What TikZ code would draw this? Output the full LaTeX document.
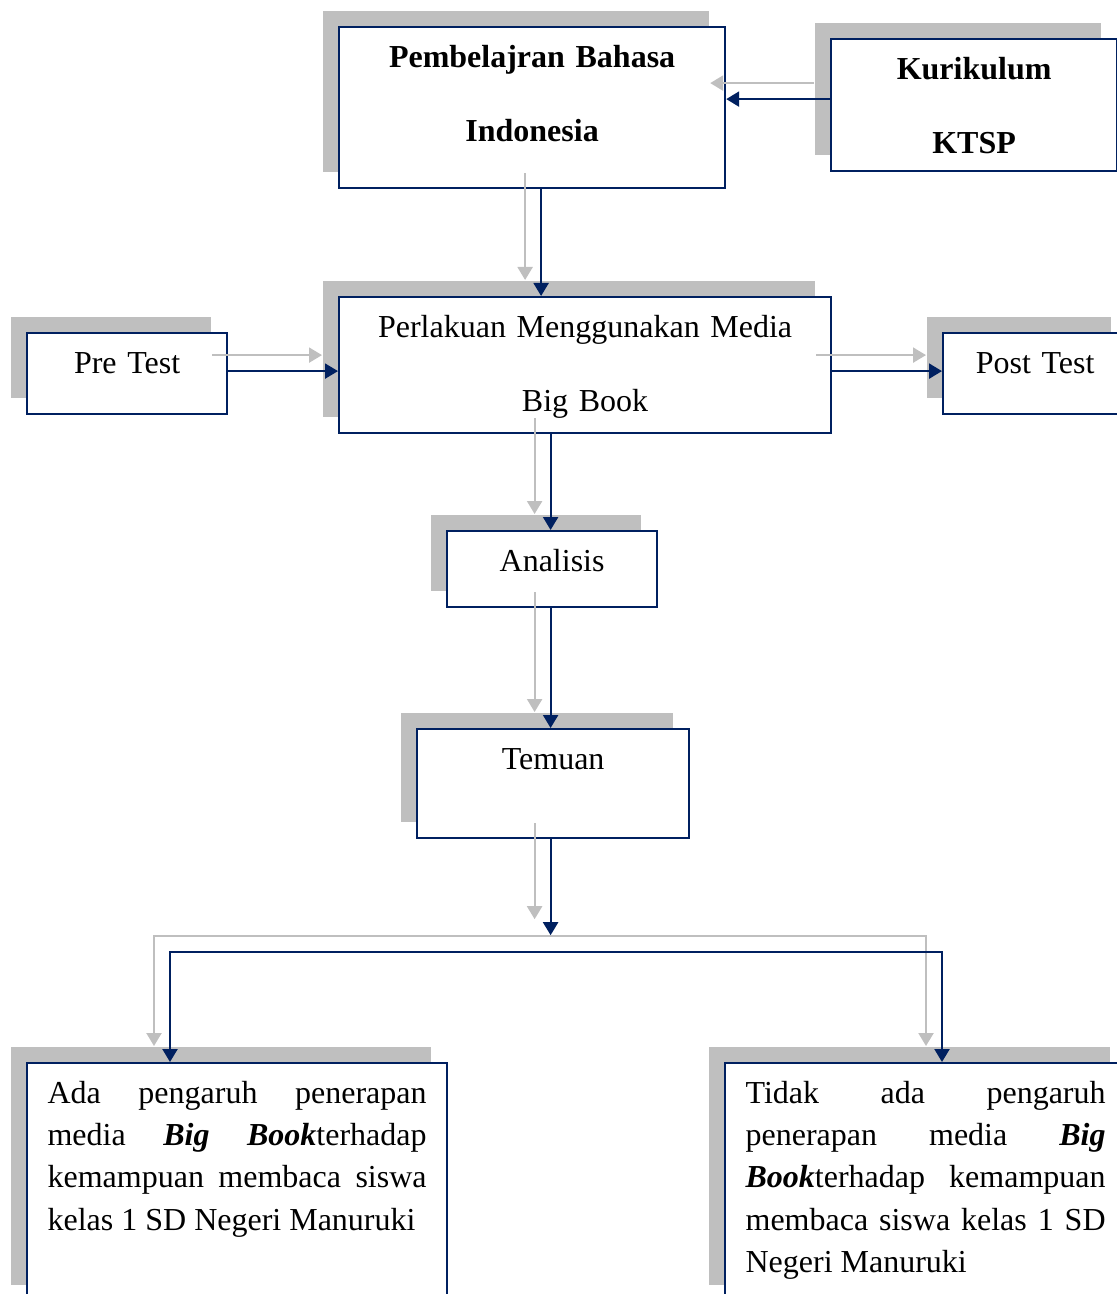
\documentclass[tikz,border=0pt]{standalone}
\usepackage{fontspec}
\setmainfont{Liberation Serif}
\usetikzlibrary{positioning,arrows.meta,shadows}
\definecolor{navy}{HTML}{002060}
\definecolor{shadowgray}{HTML}{BFBFBF}

\begin{document}
\begin{tikzpicture}[x=0.5pt, y=-0.5pt,
    blok/.style={draw=navy, fill=white, line width=1.1pt, anchor=north west,
        inner sep=0pt, align=center, text height=20pt,
        font=\fontsize{16}{37}\selectfont,
        general shadow={fill=shadowgray, shadow xshift=-8pt, shadow yshift=8pt}},
    tebal/.style={font=\fontsize{16}{37}\selectfont\bfseries},
    teks/.style={blok, align=justify, inner xsep=10.25pt, text depth=99pt,
        font=\fontsize{16}{21.15}\selectfont,
        execute at begin node={\tolerance=10000 \hyphenpenalty=10000 }},
    arr/.style={draw=navy, line width=1.1pt, -{Triangle[length=6.5pt,width=7.5pt]}},
    shd/.style={arr, draw=shadowgray, transform canvas={xshift=-8pt, yshift=8pt}}]
    \path[use as bounding box] (0,0) rectangle (1117,1294);
    \clip (0,0) rectangle (1117,1294);
    \node[blok, tebal, text width=193pt, text depth=60.5pt] (bel) at (338,26) {Pembelajran Bahasa\\Indonesia};
    \node[blok, tebal, text width=143pt, text depth=46pt] (kur) at (830,38) {Kurikulum\\KTSP};
    \node[blok, text width=246pt, text depth=48pt] (per) at (338,296) {Perlakuan Menggunakan Media\\Big Book};
    \node[blok, text width=100pt, text depth=20.5pt] (pre) at (26,332) {Pre Test};
    \node[blok, text width=92pt, text depth=20.5pt] (post) at (942,332) {Post Test};
    \node[blok, text width=105pt, text depth=18pt] (ana) at (446,530) {Analisis};
    \node[blok, text width=136pt, text depth=34.5pt] (tem) at (416,728) {Temuan};
    \node[teks, text width=189.5pt] (ada) at (26,1062) {Ada pengaruh penerapan\linebreak
        media \textbf{\textit{Big Book}}terhadap\linebreak
        kemampuan membaca siswa\linebreak
        kelas 1 SD Negeri Manuruki};
    \node[teks, text width=180pt] (tdk) at (724,1062) {Tidak ada pengaruh\linebreak
        penerapan media \textbf{\textit{Big}}\linebreak
        \textbf{\textit{Book}}terhadap kemampuan\linebreak
        membaca siswa kelas 1 SD\linebreak
        Negeri Manuruki};
    % titik bantu untuk panah
    \coordinate (kurout) at ([yshift=3pt]kur.west);
    \coordinate (belin) at (bel.east |- kurout);
    \coordinate (belout) at ([xshift=4.5pt]bel.south);
    \coordinate (preout) at ([yshift=1.25pt]pre.east);
    \coordinate (postin) at ([yshift=1.25pt]post.west);
    \coordinate (mid) at ([xshift=-0.75pt]ana.north);
    \coordinate (temout) at (mid |- tem.south);
    \coordinate (fork) at ([yshift=-48pt]temout);
    \coordinate (bar) at ([yshift=-8.5pt]fork);
    \coordinate (adain) at ([xshift=72pt]ada.north west);
    \coordinate (tdkin) at ([xshift=109pt]tdk.north west);
    % bayangan dulu, lalu panah biru
    \foreach \lapis in {shd,arr}{
        \draw[\lapis] (kurout) -- (belin);
        \draw[\lapis] (belout) -- (belout |- per.north);
        \draw[\lapis] (preout) -- (preout -| per.west);
        \draw[\lapis] (postin -| per.east) -- (postin);
        \draw[\lapis] (mid |- per.south) -- (mid);
        \draw[\lapis] (mid |- ana.south) -- (mid |- tem.north);
        \draw[\lapis] (temout) -- (fork);
        \draw[\lapis] (bar) -| (adain);
        \draw[\lapis] (bar) -| (tdkin);
    }
\end{tikzpicture}
\end{document}
